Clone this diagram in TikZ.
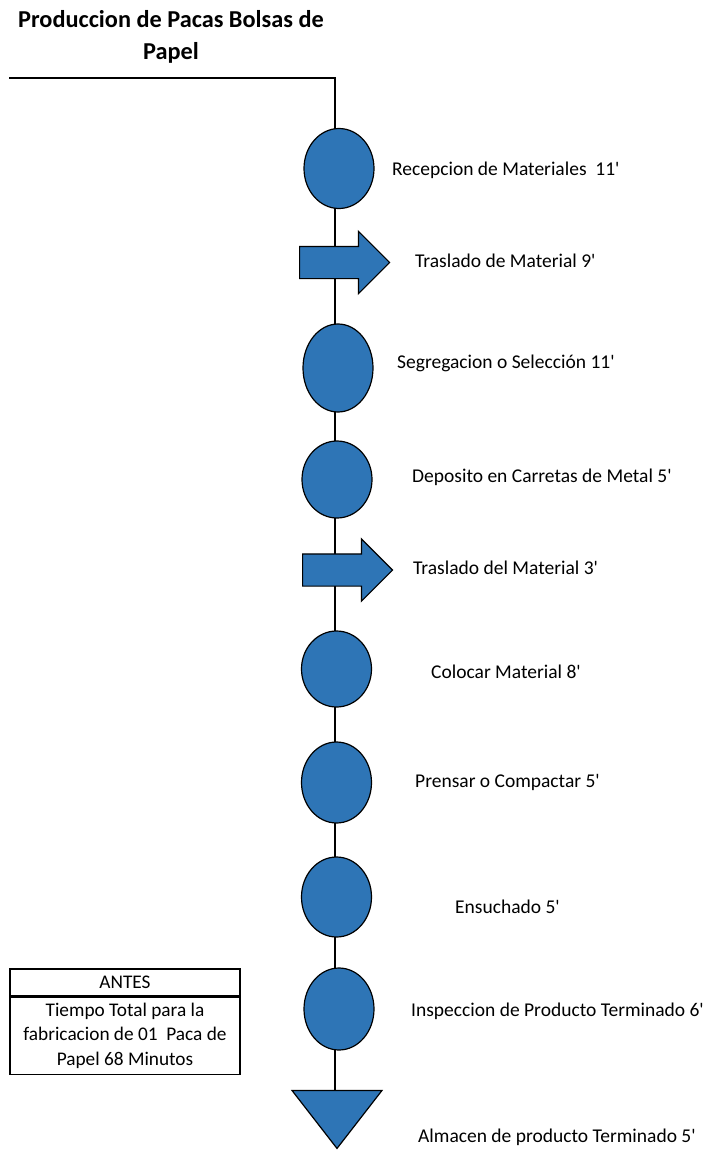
\documentclass[tikz,border=0pt]{standalone}
\usepackage{fontspec}
\setmainfont{Carlito}
\usetikzlibrary{shapes.geometric,shapes.arrows,positioning,backgrounds}
\definecolor{flowblue}{RGB}{46,117,182}
\newcommand\mint{\textquotesingle}
\tikzset{
  opcirc/.style={ellipse, draw=black, fill=flowblue, line width=1.2pt,
    minimum width=70pt, minimum height=80pt, inner sep=0pt},
  movearrow/.style={single arrow, draw=black, fill=flowblue, line width=1.2pt,
    minimum height=90pt, minimum width=61pt, single arrow head extend=15pt,
    inner xsep=0pt, inner ysep=15.5pt, anchor=tail},
  storetri/.style={isosceles triangle, shape border rotate=270,
    isosceles triangle stretches, draw=black, fill=flowblue, line width=1.2pt,
    minimum width=90pt, minimum height=58pt, inner sep=0pt, anchor=apex},
  steplabel/.style={anchor=west, inner sep=0pt, font=\fontsize{19.5}{23}\selectfont},
  boxpart/.style={draw=black, line width=1.2pt, minimum width=230pt, inner sep=0pt,
    align=center, font=\fontsize{19.3}{24.5}\selectfont},
  spine/.style={draw=black, line width=1.8pt},
}
\begin{document}
\begin{tikzpicture}[x=1pt, y=-1pt]
\useasboundingbox (0,0) rectangle (710,1151);
%title
\node[align=center, font=\bfseries\fontsize{24.3}{32}\selectfont] (title) at (171,37)
  {Produccion de Pacas Bolsas de\\Papel};
%
%  ____
%      |
%      o
%      =>
%      o
%      v
%
\node[opcirc] (rec) at (339,168.5) {};
\node[movearrow] (tras1) at (299,262.5) {};
\node[opcirc, minimum height=88pt] (seg) at (338,368) {};
\node[opcirc, minimum height=77pt] (dep) at (337,479.5) {};
\node[movearrow] (tras2) at (302,570) {};
\node[opcirc, minimum height=76pt] (col) at (336.5,669) {};
\node[opcirc, minimum height=81pt] (pren) at (336.5,782.5) {};
\node[opcirc] (ens) at (336.5,897) {};
\node[opcirc, minimum height=82pt] (insp) at (339,1009) {};
\node[storetri] (alm) at (337,1150) {};
%labels
\node[steplabel] (lrec) at (392,170) {Recepcion de Materiales~ 11\mint};
\node[steplabel] (ltras1) at (415,261) {Traslado de Material 9\mint};
\node[steplabel] (lseg) at (397,363) {Segregacion o Selección 11\mint};
\node[steplabel] (ldep) at (412,477) {Deposito en Carretas de Metal 5\mint};
\node[steplabel] (ltras2) at (413,568) {Traslado del Material 3\mint};
\node[steplabel] (lcol) at (431,672) {Colocar Material 8\mint};
\node[steplabel] (lpren) at (415,782) {Prensar o Compactar 5\mint};
\node[steplabel] (lens) at (455,907) {Ensuchado 5\mint};
\node[steplabel] (linsp) at (411,1011) {Inspeccion de Producto Terminado 6\mint};
\node[steplabel] (lalm) at (418,1137) {Almacen de producto Terminado 5\mint};
%ANTES box
\node[boxpart, minimum height=27pt] (antes) at (125,982.5) {ANTES};
\node[boxpart, minimum height=77pt, below=0pt of antes] (total)
  {Tiempo Total para la\\fabricacion de 01~ Paca de\\Papel 68 Minutos};
%line behind the symbols
\coordinate (start) at (9,78);
\coordinate (corner) at (335,78);
\begin{scope}[on background layer]
\draw[spine] (start) -- (corner) -- (corner |- alm.lower side);
\end{scope}
\end{tikzpicture}
\end{document}
